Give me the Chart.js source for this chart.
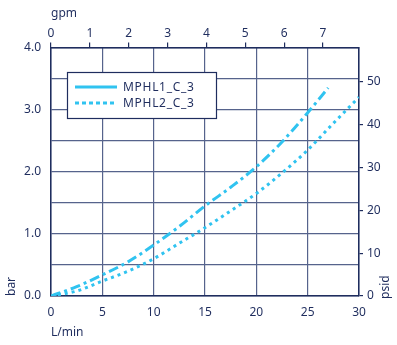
<!DOCTYPE html>
<html>
<head>
<meta charset="utf-8">
<script src="https://cdn.jsdelivr.net/npm/chart.js@4"></script>
<style>
  body { margin: 0; background: #fff; }
  #wrap { width: 397px; height: 345px; }
</style>
</head>
<body>
<div id="wrap"><canvas id="chart" width="397" height="345"></canvas></div>
<script>
// flow in L/min, pressure drop in bar
const flowTicks = [0, 5, 10, 15, 20, 25, 30];
const gpmTicks = [0, 1, 2, 3, 4, 5, 6, 7];
const psiTicks = [0, 10, 20, 30, 40, 50];
const seriesNames = ['MPHL1_C_3', 'MPHL2_C_3'];
const mphl1Flow = [0, 2.5, 5, 7.5, 10, 12.5, 15, 17.5, 20, 22.5, 25, 27];
const mphl1Bar  = [0, 0.15, 0.34, 0.55, 0.82, 1.12, 1.45, 1.75, 2.08, 2.48, 2.95, 3.35];
const mphl2Flow = [0, 2.5, 5, 7.5, 10, 12.5, 15, 17.5, 20, 22.5, 25, 27.5, 30];
const mphl2Bar  = [0, 0.08, 0.24, 0.4, 0.6, 0.85, 1.1, 1.37, 1.65, 1.98, 2.35, 2.78, 3.2];

const L_PER_GAL = 3.785;
const PSI_PER_BAR = 14.5038;
const navy = '#1f2d5e';
const gridCol = '#56638c';
const cyan = '#30c3f0';
const fontFam = '"Noto Sans", sans-serif';

function pts(xs, ys) {
  return xs.map((x, i) => ({x: x, y: ys[i]}));
}

// legend box drawn inside the plot
const legendBox = {
  id: 'legendBox',
  afterDraw(chart) {
    const ctx = chart.ctx;
    ctx.save();
    ctx.fillStyle = '#fff';
    ctx.fillRect(67.5, 72.5, 149, 46);
    ctx.strokeStyle = navy;
    ctx.lineWidth = 1.2;
    ctx.strokeRect(67.5, 72.5, 149, 46);
    const rows = [87, 103];
    const dashes = [[], [4, 3]];
    ctx.lineWidth = 3;
    ctx.strokeStyle = cyan;
    rows.forEach((y, i) => {
      ctx.setLineDash(dashes[i]);
      ctx.beginPath();
      ctx.moveTo(75, y);
      ctx.lineTo(117, y);
      ctx.stroke();
    });
    ctx.setLineDash([]);
    ctx.fillStyle = navy;
    ctx.font = '12px ' + fontFam;
    ctx.letterSpacing = '0.7px';
    ctx.textBaseline = 'middle';
    rows.forEach((y, i) => ctx.fillText(seriesNames[i], 123, y + 0.5));
    // right axis unit, reads bottom to top
    ctx.letterSpacing = '0px';
    ctx.translate(386, 299);
    ctx.rotate(-Math.PI / 2);
    ctx.textAlign = 'left';
    ctx.fillText('psid', 0, 0);
    ctx.restore();
  }
};

const tickFont = {family: fontFam, size: 12};

new Chart(document.getElementById('chart'), {
  type: 'line',
  data: {
    datasets: [{
      label: seriesNames[0],
      data: pts(mphl1Flow, mphl1Bar),
      borderColor: cyan,
      borderWidth: 3,
      borderDash: [10, 4, 3, 4],
      pointRadius: 0,
      cubicInterpolationMode: 'monotone',
      fill: false
    }, {
      label: seriesNames[1],
      data: pts(mphl2Flow, mphl2Bar),
      borderColor: cyan,
      borderWidth: 3,
      borderDash: [3, 4],
      pointRadius: 0,
      cubicInterpolationMode: 'monotone',
      fill: false
    }]
  },
  options: {
    responsive: false,
    animation: false,
    layout: {padding: 0},
    plugins: {legend: {display: false}, tooltip: {enabled: false}},
    scales: {
      x: {
        type: 'linear', position: 'bottom', min: 0, max: 30,
        afterBuildTicks: s => { s.ticks = flowTicks.map(v => ({value: v})); },
        afterFit: s => { s.height = 49; },
        grid: {color: gridCol, lineWidth: 1.2, drawTicks: false},
        border: {color: navy, width: 1.5},
        ticks: {color: navy, font: tickFont, padding: 9, maxRotation: 0},
        title: {display: true, text: 'L/min', align: 'start', color: navy,
                font: tickFont, padding: {top: 0, bottom: 5}}
      },
      x2: {
        type: 'linear', position: 'top', min: 0, max: 30 / L_PER_GAL,
        afterBuildTicks: s => { s.ticks = gpmTicks.map(v => ({value: v})); },
        afterFit: s => { s.height = 47.5; },
        grid: {drawOnChartArea: false, color: navy, tickLength: 5, lineWidth: 1.2},
        border: {color: navy, width: 1.5},
        ticks: {color: navy, font: tickFont, padding: 2, maxRotation: 0, autoSkip: false},
        title: {display: true, text: 'gpm', align: 'start', color: navy,
                font: tickFont, padding: {top: 6, bottom: 0}}
      },
      y: {
        type: 'linear', position: 'left', min: 0, max: 4,
        afterFit: s => { s.width = 51; },
        grid: {color: gridCol, lineWidth: 1.2, drawTicks: false},
        border: {color: navy, width: 1.5},
        ticks: {color: navy, font: tickFont, stepSize: 0.5, padding: 10,
                callback: v => (v % 1 === 0 ? v.toFixed(1) : '')},
        title: {display: true, text: 'bar', align: 'start', color: navy,
                font: tickFont, padding: {top: 4, bottom: 0}}
      },
      y2: {
        type: 'linear', position: 'right', min: 0, max: 4 * PSI_PER_BAR,
        afterBuildTicks: s => { s.ticks = psiTicks.map(v => ({value: v})); },
        afterFit: s => { s.width = 38; },
        grid: {drawOnChartArea: false, color: navy, tickLength: 4, lineWidth: 1.2},
        border: {color: navy, width: 1.5},
        ticks: {color: navy, font: tickFont, padding: 4, autoSkip: false}
      }
    }
  },
  plugins: [legendBox]
});
</script>
</body>
</html>
